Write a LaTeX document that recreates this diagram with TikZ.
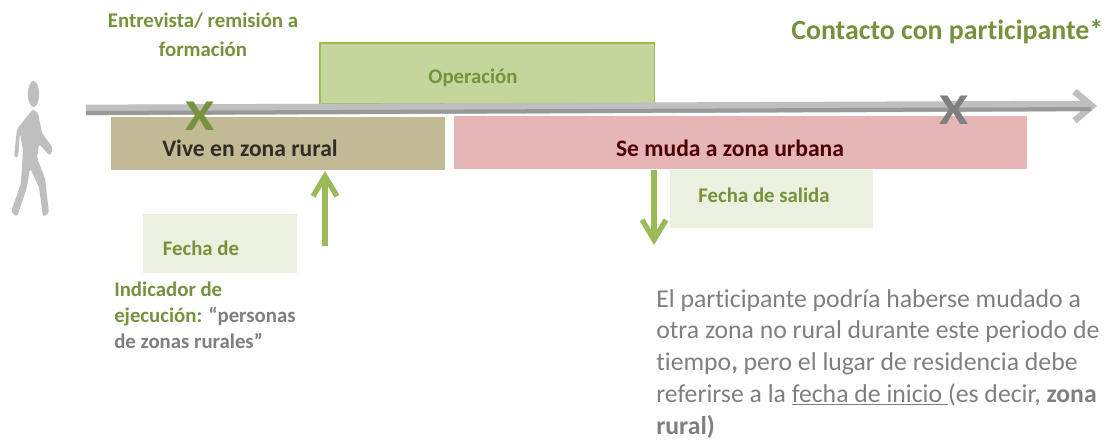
\documentclass[tikz,border=0pt]{standalone}
\usepackage{fontspec}
\usetikzlibrary{arrows.meta,calc}
\setmainfont{Carlito}[Ligatures=NoCommon]
\definecolor{leaf}{HTML}{76923C}
\definecolor{stem}{HTML}{9BBB59}
\definecolor{opfill}{HTML}{C3D69B}
\definecolor{pale}{HTML}{EBF1DE}
\definecolor{rural}{HTML}{C2B995}
\definecolor{urban}{HTML}{E6B5B5}
\definecolor{ash}{HTML}{BFBFBF}
\definecolor{slate}{HTML}{7F7F7F}
\tikzset{
  bar/.style={anchor=north west, inner sep=0pt, outer sep=0pt},
  note/.style={text=leaf, font=\bfseries\fontsize{15.6}{19.5}\selectfont, inner sep=0pt},
  label/.style={font=\bfseries\fontsize{17.7}{20}\selectfont, inner sep=0pt},
  cross/.style={font=\bfseries\fontsize{33}{33}\selectfont, inner sep=0pt, xscale=1.2},
  lift/.style={draw=stem, line width=4.2pt, -{Straight Barb[length=15pt, width=18pt, line width=4pt]}}
}
\begin{document}
\begin{tikzpicture}[x=0.75pt, y=-0.75pt]
  \useasboundingbox (0,0) rectangle (1112,439);
  \node[bar, fill=opfill, draw=stem, line width=1.2pt, minimum width=251pt, minimum height=45.5pt] (oper) at (320,43) {};
  \node[note] at (473,78) {Operación};
  \coordinate (start) at (86,110);
  \coordinate (end) at (1097,106);
  \draw[draw=ash, line width=8pt, -{Straight Barb[length=13pt, width=22pt, line width=5pt]}] (start) -- (end);
  \draw[draw=slate!80, line width=3pt] (start) ++(0,3) -- ($(end)+(-6,3)$);
  \node[bar, fill=rural, minimum width=250.5pt, minimum height=39.75pt] (vive) at (111,117) {};
  \node[label, text=black!75!rural] at (250,148) {Vive en zona rural};
  \node[bar, fill=urban, minimum width=429.75pt, minimum height=39.75pt] (muda) at (454,116) {};
  \node[label, text=red!30!black] at (730,148) {Se muda a zona urbana};
  \node[bar, fill=pale, minimum width=115.5pt, minimum height=44.25pt] (fecha) at (143,214) {};
  \node[note] at (201,248) {Fecha de};
  \node[bar, fill=pale, minimum width=152.25pt, minimum height=43.5pt] (salida) at (670,170) {};
  \node[note] at (764,195) {Fecha de salida};
  \node[cross, text=leaf] (xa) at (200,116) {X};
  \node[cross, text=slate] (xb) at (954,110) {X};
  \node[note, align=center] (entre) at (203,35) {Entrevista/ remisión a\\[2.2pt]formación};
  \node[font=\bfseries\fontsize{20.9}{25}\selectfont, text=leaf, inner sep=0pt, anchor=west] (contacto) at (791,32) {Contacto con participante*};
  \node[note, align=left, anchor=north west] (indic) at (114,282) {Indicador de\\ejecución: \textcolor{slate}{“personas}\\\textcolor{slate}{de zonas rurales”}};
  \node[anchor=north west, align=left, text=slate, inner sep=0pt, font=\fontsize{19.3}{23.8}\selectfont] (texto) at (656,289) {El participante podría haberse mudado a\\otra zona no rural durante este periodo de\\tiempo{\bfseries,} pero el lugar de residencia debe\\referirse a la \underline{fecha de inicio }(es decir, \textbf{zona}\\\textbf{rural)}};
  \coordinate (upfoot) at (325,246);
  \coordinate (uptip) at (325,171);
  \coordinate (downtop) at (654,170);
  \coordinate (downtip) at (654,245);
  \draw[lift] (upfoot) -- (uptip);
  \draw[lift] (downtop) -- (downtip);
  % walking figure
  \fill[ash] (33.5,94) ellipse (4.2pt and 9.8pt);
  \fill[ash, rounded corners=2pt] (33,109) -- (38,113) -- (42,133) -- (53,148) -- (50,156) -- (39,144)
    -- (37,158) -- (45,178) -- (49,213) -- (43,217) -- (39,187) -- (30,168) -- (27,187) -- (17,217)
    -- (11,212) -- (21,183) -- (23,150) -- (20,133) -- (18,158) -- (14,157) -- (17,129) -- cycle;
\end{tikzpicture}
\end{document}
